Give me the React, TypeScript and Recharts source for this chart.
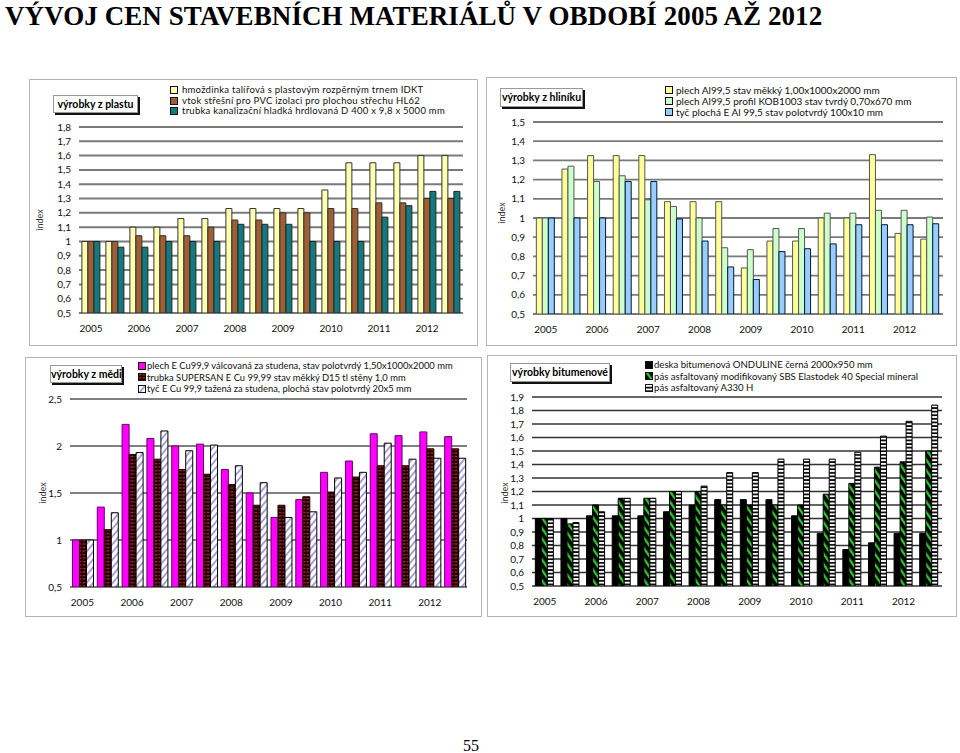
import React from 'react';
import { BarChart, Bar, XAxis, YAxis, CartesianGrid } from 'recharts';

// half-year periods, only the first one of each year gets a label
const periods = [
  '2005', '2005/2', '2006', '2006/2', '2007', '2007/2', '2008', '2008/2',
  '2009', '2009/2', '2010', '2010/2', '2011', '2011/2', '2012', '2012/2',
];

// výrobky z plastu
const plastIDKT = [1, 1, 1.1, 1.1, 1.16, 1.16, 1.23, 1.23, 1.23, 1.23, 1.36, 1.55, 1.55, 1.55, 1.6, 1.6];
const plastHL62 = [1, 1, 1.04, 1.04, 1.04, 1.1, 1.15, 1.15, 1.2, 1.2, 1.23, 1.23, 1.27, 1.27, 1.3, 1.3];
const plastTrubka = [1, 0.96, 0.96, 1, 1, 1, 1.12, 1.12, 1.12, 1, 1, 1, 1.17, 1.25, 1.35, 1.35];
const plastNames = [
  'hmoždinka talířová s plastovým rozpěrným trnem IDKT',
  'vtok střešní pro PVC izolaci pro plochou střechu HL62',
  'trubka kanalizační hladká hrdlovaná D 400 x 9,8 x 5000 mm',
];
const plastTicks = [0.5, 0.6, 0.7, 0.8, 0.9, 1, 1.1, 1.2, 1.3, 1.4, 1.5, 1.6, 1.7, 1.8];

// výrobky z hliníku
const alPlech = [1, 1.255, 1.325, 1.325, 1.325, 1.085, 1.085, 1.085, 0.74, 0.88, 0.88, 1, 1, 1.33, 0.92, 0.89];
const alProfil = [1, 1.27, 1.19, 1.22, 1.095, 1.06, 1, 0.845, 0.835, 0.945, 0.945, 1.025, 1.025, 1.04, 1.04, 1.005];
const alTyc = [1, 1, 1, 1.19, 1.19, 0.995, 0.88, 0.745, 0.68, 0.825, 0.84, 0.865, 0.965, 0.965, 0.965, 0.97];
const alNames = [
  'plech Al99,5 stav měkký 1,00x1000x2000 mm',
  'plech Al99,5 profil KOB1003 stav tvrdý 0,70x670 mm',
  'tyč plochá E Al 99,5 stav polotvrdý 100x10 mm',
];
const alTicks = [0.5, 0.6, 0.7, 0.8, 0.9, 1, 1.1, 1.2, 1.3, 1.4, 1.5];

// výrobky z mědi
const cuPlech = [1, 1.35, 2.23, 2.08, 2.0, 2.02, 1.75, 1.5, 1.24, 1.43, 1.72, 1.84, 2.13, 2.11, 2.15, 2.1];
const cuTrubka = [1, 1.11, 1.91, 1.86, 1.75, 1.7, 1.59, 1.37, 1.37, 1.46, 1.51, 1.67, 1.79, 1.79, 1.97, 1.97];
const cuTyc = [1, 1.29, 1.93, 2.16, 1.95, 2.01, 1.79, 1.61, 1.24, 1.3, 1.66, 1.72, 2.03, 1.86, 1.87, 1.87];
const cuNames = [
  'plech E Cu99,9 válcovaná za studena, stav polotvrdý 1,50x1000x2000 mm',
  'trubka SUPERSAN E Cu 99,99 stav měkký D15 tl stěny 1,0 mm',
  'tyč E Cu 99,9 tažená za studena, plochá stav polotvrdý 20x5 mm',
];
const cuTicks = [0.5, 1, 1.5, 2, 2.5];

// výrobky bitumenové
const bitDeska = [1, 1, 1.02, 1.02, 1.02, 1.05, 1.1, 1.14, 1.14, 1.14, 1.02, 0.89, 0.77, 0.82, 0.89, 0.89];
const bitElastodek = [1, 0.96, 1.1, 1.15, 1.15, 1.2, 1.2, 1.1, 1.1, 1.1, 1.1, 1.18, 1.26, 1.38, 1.42, 1.5];
const bitA330 = [1, 0.97, 1.05, 1.15, 1.15, 1.2, 1.24, 1.34, 1.34, 1.44, 1.44, 1.44, 1.49, 1.61, 1.72, 1.84];
const bitNames = [
  'deska bitumenová ONDULINE černá 2000x950 mm',
  'pás asfaltovaný modifikovaný SBS Elastodek 40 Special mineral',
  'pás asfaltovaný A330 H',
];
const bitTicks = [0.5, 0.6, 0.7, 0.8, 0.9, 1, 1.1, 1.2, 1.3, 1.4, 1.5, 1.6, 1.7, 1.8, 1.9];

const FONT = 'Lato, "Open Sans", sans-serif';

const toRows = (a: number[], b: number[], c: number[]) =>
  periods.map((p, i) => ({ period: p, s1: a[i], s2: b[i], s3: c[i] }));

const fmtTick = (v: number) => String(v).replace('.', ',');
const fmtPeriod = (v: string) => (v.includes('/') ? '' : v);

type Series = { fill: string; stroke: string };

type PanelCfg = {
  box: [number, number, number, number];
  chart: [number, number, number, number];
  yWidth: number;
  title: string;
  titleBox: [number, number, number, number];
  indexPos: [number, number];
  legendPos: [number, number, number, number];
  legendFont: number;
  legendSpacing: number;
  names: string[];
  series: Series[];
  rows: any[];
  ticks: number[];
  gridStroke: string;
  gridWidth: number;
  gap: string;
};

const panels: PanelCfg[] = [
  {
    box: [29, 79, 449, 267],
    chart: [40, 120, 430, 225],
    yWidth: 39,
    title: 'výrobky z plastu',
    titleBox: [53, 95, 85, 18],
    indexPos: [40, 220],
    legendPos: [170, 90.5, 10.5, 3],
    legendFont: 9.5,
    legendSpacing: 0.25,
    names: plastNames,
    series: [
      { fill: '#FFFFB0', stroke: '#333' },
      { fill: '#9E5F36', stroke: '#333' },
      { fill: '#14797A', stroke: '#222' },
    ],
    rows: toRows(plastIDKT, plastHL62, plastTrubka),
    ticks: plastTicks,
    gridStroke: '#7a7a7a',
    gridWidth: 2,
    gap: '12%',
  },
  {
    box: [486, 77, 471, 269],
    chart: [495, 115, 455, 231],
    yWidth: 38,
    title: 'výrobky z hliníku',
    titleBox: [500, 88, 83, 19],
    indexPos: [502, 213],
    legendPos: [665, 90, 11, 2],
    legendFont: 10,
    legendSpacing: 0,
    names: alNames,
    series: [
      { fill: '#FFFF99', stroke: '#555' },
      { fill: '#CCFFCC', stroke: '#555' },
      { fill: '#99CCFF', stroke: '#001a33' },
    ],
    rows: toRows(alPlech, alProfil, alTyc),
    ticks: alTicks,
    gridStroke: '#7a7a7a',
    gridWidth: 1.8,
    gap: '13%',
  },
  {
    box: [25, 357, 457, 260],
    chart: [30, 392, 444, 227],
    yWidth: 40,
    title: 'výrobky z mědi',
    titleBox: [50, 365, 72, 18],
    indexPos: [43, 493],
    legendPos: [138, 366, 11.5, 0],
    legendFont: 9.4,
    legendSpacing: 0,
    names: cuNames,
    series: [
      { fill: '#FF00FF', stroke: '#660066' },
      { fill: 'url(#cuBrick)', stroke: '#200000' },
      { fill: 'url(#cuDiag)', stroke: '#000' },
    ],
    rows: toRows(cuPlech, cuTrubka, cuTyc),
    ticks: cuTicks,
    gridStroke: '#000',
    gridWidth: 1,
    gap: '10%',
  },
  {
    box: [487, 355, 470, 262],
    chart: [495, 390, 454, 228],
    yWidth: 37,
    title: 'výrobky bitumenové',
    titleBox: [510, 363, 100, 19],
    indexPos: [505, 493],
    legendPos: [645, 365, 11.5, 0],
    legendFont: 9.6,
    legendSpacing: 0,
    names: bitNames,
    series: [
      { fill: '#000', stroke: '#000' },
      { fill: 'url(#bitDiag)', stroke: '#000' },
      { fill: 'url(#bitLadder)', stroke: '#000' },
    ],
    rows: toRows(bitDeska, bitElastodek, bitA330),
    ticks: bitTicks,
    gridStroke: '#333',
    gridWidth: 1.4,
    gap: '13%',
  },
];

const Patterns = () => (
  <svg width={0} height={0} style={{ position: 'absolute' }}>
    <defs>
      <pattern id="cuBrick" patternUnits="userSpaceOnUse" width={4} height={3.5}>
        <rect width={4} height={3.5} fill="#220000" />
        <rect x={0.5} y={1} width={3} height={1.1} fill="#b03535" />
      </pattern>
      <pattern id="cuDiag" patternUnits="userSpaceOnUse" width={5} height={5} patternTransform="rotate(40)">
        <rect width={5} height={5} fill="#fff" />
        <rect width={2} height={5} fill="#a9a2d6" />
      </pattern>
      <pattern id="bitDiag" patternUnits="userSpaceOnUse" width={6} height={6} patternTransform="rotate(-35)">
        <rect width={6} height={6} fill="#000" />
        <rect width={2.4} height={6} fill="#2fc42f" />
      </pattern>
      <pattern id="bitLadder" patternUnits="userSpaceOnUse" width={6} height={3.6}>
        <rect width={6} height={3.6} fill="#000" />
        <rect y={0.9} width={6} height={1.9} fill="#fff" />
      </pattern>
    </defs>
  </svg>
);

const Panel = ({ cfg }: { cfg: PanelCfg }) => {
  const [bx, by, bw, bh] = cfg.box;
  const [cx, cy, cw, ch] = cfg.chart;
  const [tx, ty, tw, th] = cfg.titleBox;
  const [lx, ly, lstep, lgap] = cfg.legendPos;
  const domain = [cfg.ticks[0], cfg.ticks[cfg.ticks.length - 1]];
  return (
    <>
      <div
        style={{
          position: 'absolute', left: bx, top: by, width: bw, height: bh,
          border: '1px solid #b5b5b5', boxSizing: 'border-box', background: '#fff',
        }}
      />
      <div style={{ position: 'absolute', left: cx, top: cy }}>
        <BarChart
          width={cw}
          height={ch}
          data={cfg.rows}
          margin={{ top: 7, right: 7, bottom: 2, left: 0 }}
          barGap={0}
          barCategoryGap={cfg.gap}
        >
          <CartesianGrid vertical={false} stroke={cfg.gridStroke} strokeWidth={cfg.gridWidth} />
          <XAxis
            dataKey="period"
            interval={0}
            axisLine={false}
            tickLine={false}
            tickFormatter={fmtPeriod}
            tickMargin={6}
            height={30}
            tick={{ fontSize: 10, fill: '#111', fontFamily: FONT }}
          />
          <YAxis
            type="number"
            domain={domain}
            ticks={cfg.ticks}
            interval={0}
            allowDataOverflow
            axisLine={false}
            tickLine={false}
            width={cfg.yWidth}
            tickFormatter={fmtTick}
            tick={{ fontSize: 10, fill: '#111', fontFamily: FONT }}
          />
          {cfg.series.map((s, i) => (
            <Bar
              key={i}
              dataKey={'s' + (i + 1)}
              name={cfg.names[i]}
              fill={s.fill}
              stroke={s.stroke}
              strokeWidth={1}
              isAnimationActive={false}
            />
          ))}
        </BarChart>
      </div>
      <div
        style={{
          position: 'absolute', left: tx, top: ty, width: tw, height: th,
          border: '1px solid #999', boxShadow: '2px 2px 0 #111', background: '#fff',
          boxSizing: 'border-box', fontFamily: FONT, fontWeight: 700, fontSize: 10.5,
          lineHeight: th - 2 + 'px', textAlign: 'center', whiteSpace: 'nowrap',
        }}
      >
        {cfg.title}
      </div>
      <div
        style={{
          position: 'absolute', left: cfg.indexPos[0] - 15, top: cfg.indexPos[1] - 6, width: 30,
          textAlign: 'center', transform: 'rotate(-90deg)', fontFamily: FONT, fontSize: 9,
          color: '#333', lineHeight: '12px',
        }}
      >
        index
      </div>
      {cfg.names.map((n, i) => (
        <div
          key={n}
          style={{
            position: 'absolute', left: lx, top: ly + i * lstep - lstep / 2, height: lstep,
            lineHeight: lstep + 'px', display: 'flex', alignItems: 'center', whiteSpace: 'nowrap',
            fontFamily: FONT, fontSize: cfg.legendFont, letterSpacing: cfg.legendSpacing, color: '#111',
          }}
        >
          <svg width={9} height={9} style={{ marginRight: lgap, flex: 'none' }}>
            <rect x={0.5} y={0.5} width={7} height={7} fill={cfg.series[i].fill} stroke="#111" strokeWidth={1} />
          </svg>
          {n}
        </div>
      ))}
    </>
  );
};

export default function App() {
  return (
    <div style={{ position: 'absolute', left: 0, top: 0, width: 960, height: 753, background: '#fff', overflow: 'hidden' }}>
      <Patterns />
      <div
        style={{
          position: 'absolute', left: 5, top: 3, fontFamily: '"Liberation Serif", serif',
          fontWeight: 700, fontSize: 27, lineHeight: '27px', whiteSpace: 'nowrap', letterSpacing: 0.08,
        }}
      >
        VÝVOJ CEN STAVEBNÍCH MATERIÁLŮ V OBDOBÍ 2005 AŽ 2012
      </div>
      {panels.map((p) => (
        <Panel key={p.title} cfg={p} />
      ))}
      <div
        style={{
          position: 'absolute', left: 451, top: 738, width: 40, textAlign: 'center',
          fontFamily: '"Liberation Serif", serif', fontSize: 16, lineHeight: '16px',
        }}
      >
        55
      </div>
    </div>
  );
}
